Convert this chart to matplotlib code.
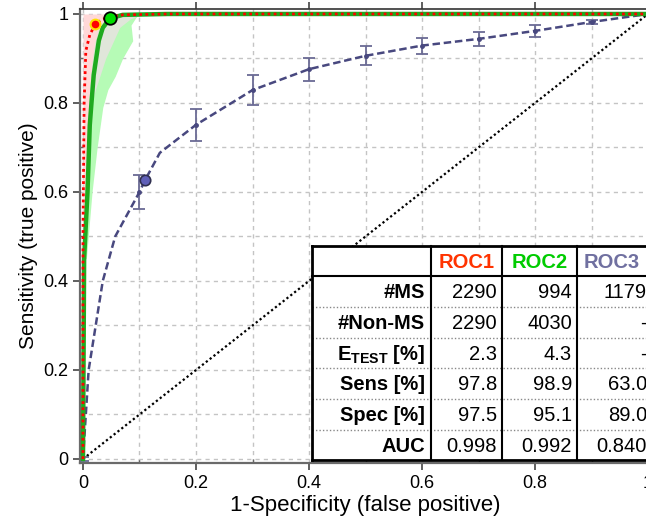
import numpy as np
import matplotlib
matplotlib.use('Agg')
import matplotlib.pyplot as plt
from matplotlib.patches import Rectangle

plt.rcParams['font.family'] = 'Liberation Sans'
plt.rcParams['mathtext.fontset'] = 'custom'
plt.rcParams['mathtext.rm'] = 'Liberation Sans'
plt.rcParams['mathtext.bf'] = 'Liberation Sans:bold'

# ROC1 (red dotted) and its band
roc1_fpr = [0, 0, 0.002, 0.005, 0.012, 0.022, 0.035, 0.048, 0.07, 0.15, 1.0]
roc1_tpr = [0, 0.5, 0.8, 0.917, 0.953, 0.978, 0.988, 0.994, 0.998, 1.0, 1.0]
roc1_band_tpr = [0.5, 0.8, 0.83, 0.9, 0.97, 0.99, 1.0]
roc1_band_lo = [0, 0, 0, 0, 0, 0, 0]
roc1_band_hi = [0.005, 0.015, 0.022, 0.04, 0.065, 0.085, 0.11]
roc1_op = (0.022, 0.978)

# ROC2 (green) and its band
roc2_fpr = [0, 0.002, 0.008, 0.012, 0.015, 0.019, 0.028, 0.035, 0.048, 0.07, 0.15, 1.0]
roc2_tpr = [0, 0.45, 0.6, 0.75, 0.8, 0.863, 0.94, 0.969, 0.99, 0.998, 1.0, 1.0]
roc2_band_tpr = [0.45, 0.6, 0.7, 0.79, 0.83, 0.86, 0.9, 0.94, 0.975, 0.995, 1.0]
roc2_band_lo = [0, 0.004, 0.007, 0.01, 0.012, 0.014, 0.017, 0.022, 0.03, 0.045, 0.06]
roc2_band_hi = [0.006, 0.016, 0.025, 0.035, 0.044, 0.057, 0.07, 0.088, 0.085, 0.095, 0.11]
roc2_op = (0.048, 0.99)

# ROC3 (dashed slate) with error bars
roc3_fpr = [0, 0.01, 0.035, 0.057, 0.1, 0.11, 0.136, 0.2, 0.3, 0.4, 0.5, 0.6, 0.7, 0.8, 0.9, 1.0]
roc3_tpr = [0, 0.2, 0.4, 0.5, 0.6, 0.627, 0.688, 0.751, 0.829, 0.876, 0.906, 0.929, 0.944, 0.962, 0.982, 1.0]
roc3_err_x = [0, 0.1, 0.2, 0.3, 0.4, 0.5, 0.6, 0.7, 0.8, 0.9]
roc3_err_y = [0, 0.6, 0.751, 0.829, 0.876, 0.906, 0.929, 0.944, 0.962, 0.982]
roc3_err = [0.005, 0.038, 0.036, 0.033, 0.026, 0.021, 0.018, 0.016, 0.013, 0.005]
roc3_op = (0.11, 0.627)

# table
col_names = ['ROC1', 'ROC2', 'ROC3']
col_colors = ['#ff3300', '#00cc00', '#7070a0']
row_names = ['#MS', '#Non-MS', r'E$_{\mathbf{TEST}}$ [%]', 'Sens [%]', 'Spec [%]', 'AUC']
table_vals = [
    ['2290', '994', '1179'],
    ['2290', '4030', '-'],
    ['2.3', '4.3', '-'],
    ['97.8', '98.9', '63.0'],
    ['97.5', '95.1', '89.0'],
    ['0.998', '0.992', '0.840'],
]

fig = plt.figure(figsize=(6.46, 5.22), dpi=100)
ax = fig.add_axes([80/646, (522-463)/522, 570/646, 454/522])

# confidence bands, overlap drawn greyish
yy = np.linspace(0.45, 1.0, 200)
g_lo = np.interp(yy, roc2_band_tpr, roc2_band_lo)
g_hi = np.interp(yy, roc2_band_tpr, roc2_band_hi)
r_lo = np.interp(yy, roc1_band_tpr, roc1_band_lo, left=np.nan)
r_hi = np.interp(yy, roc1_band_tpr, roc1_band_hi, left=np.nan)
ax.fill_betweenx(roc1_band_tpr, roc1_band_lo, roc1_band_hi, color='#ffd8d8', lw=0, zorder=2)
ax.fill_betweenx(roc2_band_tpr, roc2_band_lo, roc2_band_hi, color='#b6fbb6', lw=0, zorder=2)
o_lo = np.maximum(g_lo, r_lo)
o_hi = np.minimum(g_hi, r_hi)
ax.fill_betweenx(yy, o_lo, o_hi, where=o_hi > o_lo, color='#e0e6da', lw=0, zorder=2)

ax.plot([0, 1], [0, 1], color='black', ls=(0, (1, 1.2)), lw=1.6, zorder=3)

ax.errorbar(roc3_err_x, roc3_err_y, yerr=roc3_err, fmt='none', ecolor='#6a6a94',
            elinewidth=1.3, capsize=4, capthick=1.3, zorder=3)
ax.plot(roc3_fpr, roc3_tpr, color='#48487f', ls=(0, (3, 1.5)), lw=1.8, zorder=4)
ax.plot(roc3_err_x[1:], roc3_err_y[1:], ls='none', marker='o', ms=2.5, color='#48487f', zorder=4)

ax.plot(roc2_fpr, roc2_tpr, color='#1faa1f', lw=3.2, zorder=5)
ax.plot(roc1_fpr, roc1_tpr, color='#ff0000', ls=(0, (1, 1.2)), lw=2, zorder=6)

ax.plot(*roc1_op, marker='o', ms=7, mfc='#ff0000', mec='#ffe000', mew=1.5, zorder=7)
ax.plot(*roc2_op, marker='o', ms=9, mfc='#00dd00', mec='black', mew=1.3, zorder=7)
ax.plot(*roc3_op, marker='o', ms=7.5, mfc='#6060b8', mec='#303050', mew=1.2, zorder=7)

ax.set_xlim(-0.0053, 1.0035)
ax.set_ylim(-0.009, 1.0112)
ax.set_xticks(np.arange(0, 1.01, 0.2))
ax.set_yticks(np.arange(0, 1.01, 0.2))
ax.set_xticks(np.arange(0.1, 1.0, 0.2), minor=True)
ax.set_yticks(np.arange(0.1, 1.0, 0.2), minor=True)
ax.xaxis.set_major_formatter(plt.FuncFormatter(lambda v, p: '%g' % round(v, 1)))
ax.yaxis.set_major_formatter(plt.FuncFormatter(lambda v, p: '%g' % round(v, 1)))
ax.grid(which='both', color='#c4c4c4', ls=(0, (3, 3)), lw=1)
ax.tick_params(which='major', direction='out', length=5, width=1.2, labelsize=13,
               top=True, right=True, color='#444444')
ax.tick_params(which='minor', direction='in', length=3, width=1, color='#666666')
for s in ax.spines.values():
    s.set_color('#6a6a6a')
    s.set_linewidth(1.6)
ax.spines['top'].set_color('#333333')
ax.spines['top'].set_linewidth(1.2)
ax.set_axisbelow(True)

ax.set_xlabel('1-Specificity (false positive)', fontsize=16, labelpad=2)
ax.set_ylabel('Sensitivity (true positive)', fontsize=15, labelpad=4)

# table overlay in pixel coordinates
tab = fig.add_axes([0, 0, 1, 1], zorder=10)
tab.set_xlim(0, 646)
tab.set_ylim(522, 0)
tab.axis('off')
tab.patch.set_alpha(0)

xs = [312, 431, 502, 577, 652]
ys = [246, 276, 307, 338, 368, 399, 430, 460]
tab.add_patch(Rectangle((xs[0], ys[0]), xs[-1]-xs[0], ys[-1]-ys[0], fc='white', ec='none'))
for y in ys[2:-1]:
    tab.plot([xs[0], xs[-1]], [y, y], color='#888888', ls=(0, (1, 1.5)), lw=1)
tab.plot([xs[0], xs[-1]], [ys[1], ys[1]], color='black', lw=1.5)
tab.plot([xs[0], xs[-1]], [ys[0], ys[0]], color='black', lw=2)
tab.plot([xs[0], xs[-1]], [ys[-1], ys[-1]], color='black', lw=2)
tab.plot([xs[0], xs[0]], [ys[0], ys[-1]], color='black', lw=2)
for x in xs[1:-1]:
    tab.plot([x, x], [ys[0], ys[-1]], color='black', lw=1.5)

for j, name in enumerate(col_names):
    tab.text((xs[j+1] + xs[j+2]) / 2 - (3 if j == 2 else 0), (ys[0] + ys[1]) / 2 + 1, name,
             color=col_colors[j], fontsize=14.5, fontweight='bold', ha='center', va='center')
for i, name in enumerate(row_names):
    yc = (ys[i+1] + ys[i+2]) / 2 + 1
    tab.text(xs[1] - 6, yc, name, fontsize=14.5, fontweight='bold', ha='right', va='center')
    for j in range(3):
        tab.text(xs[j+2] - 5, yc, table_vals[i][j], fontsize=14.5, ha='right', va='center')

fig.savefig('out.png', dpi=100)
